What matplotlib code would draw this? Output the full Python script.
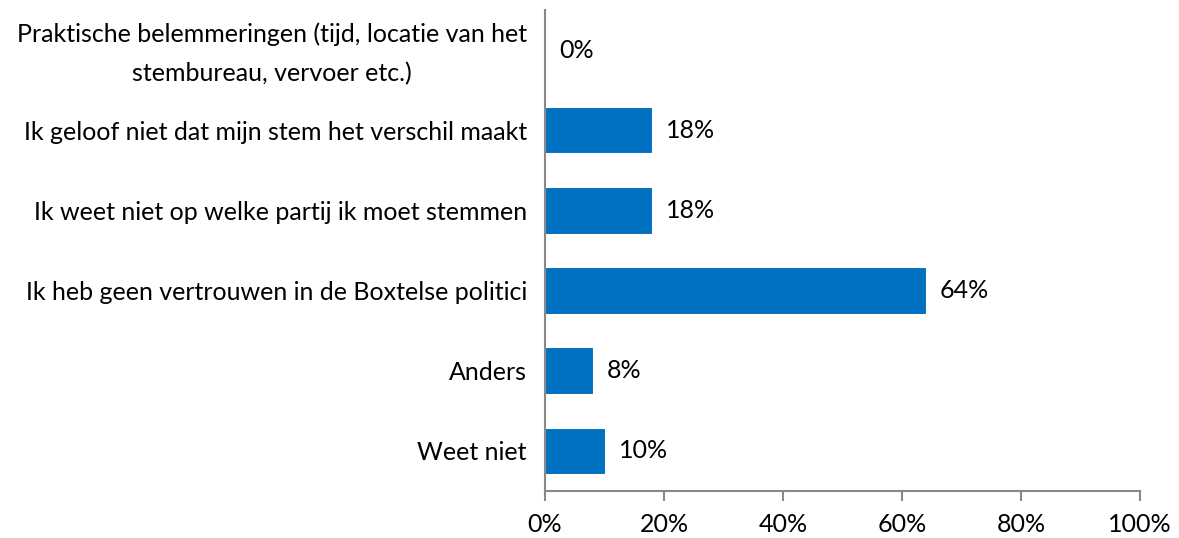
import matplotlib.pyplot as plt
import matplotlib.transforms as mtransforms
from matplotlib.ticker import FuncFormatter

plt.rcParams['font.family'] = ['Lato', 'DejaVu Sans']

categories = [
    'Praktische belemmeringen (tijd, locatie van het\nstembureau, vervoer etc.)',
    'Ik geloof niet dat mijn stem het verschil maakt',
    'Ik weet niet op welke partij ik moet stemmen',
    'Ik heb geen vertrouwen in de Boxtelse politici',
    'Anders',
    'Weet niet',
]
values = [0, 18, 18, 64, 8, 10]
x_ticks = [0, 20, 40, 60, 80, 100]

bar_colour = '#0070C0'
axis_colour = '#898989'

fig = plt.figure(figsize=(11.79, 5.38), dpi=100)
ax = fig.add_axes([0.4623, 0.0874, 0.5046, 0.894])

pos = list(range(len(categories)))
ax.barh(pos, values, height=0.58, color=bar_colour, edgecolor='white', linewidth=0.8)
ax.set_ylim(len(categories) - 0.5, -0.5)
ax.set_xlim(0, 100)

for p, v in zip(pos, values):
    ax.text(v + 2.4, p, f'{v}%', va='center', ha='left', fontsize=18, color='black')

ax.set_yticks(pos)
ax.set_yticklabels(categories, fontsize=18, multialignment='center', linespacing=1.8)
ax.tick_params(axis='y', length=0, pad=13)

# nudge the two-line label up a bit so it sits like the original
first = ax.get_yticklabels()[0]
first.set_transform(mtransforms.offset_copy(first.get_transform(), fig=fig, x=0, y=6, units='dots'))

ax.set_xticks(x_ticks)
ax.xaxis.set_major_formatter(FuncFormatter(lambda x, _: f'{x:.0f}%'))
ax.tick_params(axis='x', length=7, width=1.5, color=axis_colour, labelsize=18, pad=9)

for side in ['top', 'right']:
    ax.spines[side].set_visible(False)
for side in ['left', 'bottom']:
    ax.spines[side].set_color(axis_colour)
    ax.spines[side].set_linewidth(1.5)

plt.savefig('out.png', dpi=100, facecolor='white')
